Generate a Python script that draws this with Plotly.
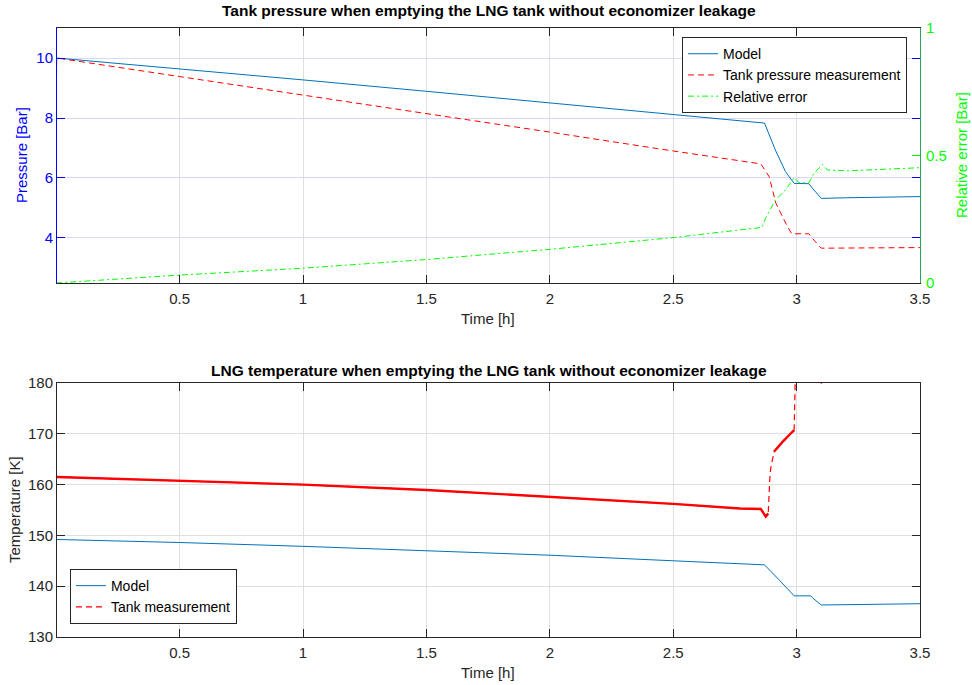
import plotly.graph_objects as go

# ---------------- data ----------------
# Top: pressure [Bar] vs time [h]
t_model_p = [0.0, 0.5, 1.0, 1.5, 2.0, 2.5, 2.87, 2.914, 2.955, 2.99, 3.05, 3.064, 3.07, 3.10, 3.2, 3.35, 3.5]
p_model = [10.0, 9.64, 9.27, 8.89, 8.50, 8.12, 7.83, 6.93, 6.21, 5.82, 5.81, 5.66, 5.60, 5.32, 5.34, 5.36, 5.38]

t_meas_p = [0.0, 0.002, 0.5, 1.0, 1.5, 2.0, 2.5, 2.82, 2.855, 2.889, 2.916, 2.956, 2.98, 3.05, 3.07, 3.10, 3.5]
p_meas = [8.75, 10.0, 9.38, 8.77, 8.15, 7.53, 6.90, 6.49, 6.47, 6.04, 5.16, 4.49, 4.14, 4.14, 3.93, 3.66, 3.68]

t_err = [0.0, 0.5, 1.0, 1.5, 2.0, 2.5, 2.86, 2.874, 2.914, 2.955, 2.99, 3.01, 3.05, 3.07, 3.105, 3.125, 3.21, 3.5]
rel_err = [0.0, 0.031, 0.058, 0.092, 0.132, 0.178, 0.218, 0.254, 0.325, 0.365, 0.413, 0.393, 0.393, 0.43, 0.465, 0.443, 0.44, 0.452]

# Bottom: temperature [K] vs time [h]
t_model_T = [0.0, 0.5, 1.0, 1.5, 2.0, 2.5, 2.87, 2.93, 2.99, 3.057, 3.067, 3.10, 3.3, 3.5]
T_model = [149.2, 148.6, 147.85, 147.05, 146.1, 145.0, 144.2, 141.2, 138.1, 138.1, 137.6, 136.3, 136.45, 136.55]

t_meas_T = [0.0, 0.5, 0.78, 1.0, 1.5, 2.0, 2.5, 2.77, 2.855, 2.875, 2.885, 2.891, 2.895, 2.909, 2.943, 2.983, 2.99,
            2.995, 3.0, 3.09, 3.10, 3.11, 3.5]
T_meas = [161.5, 160.8, 160.4, 160.0, 158.95, 157.6, 156.2, 155.3, 155.2, 153.7, 154.3, 160.9, 163.2, 166.5, 168.4, 170.4, 170.7,
          182.0, 190.0, 190.0, 179.85, 190.0, 190.0]
# index ranges of the dense (noisy) parts of the measurement, drawn thick
solid_a = (0, 10)   # 0 .. 2.885
solid_b = (13, 16)  # 2.909 .. 2.99

x_ticks = [0.5, 1, 1.5, 2, 2.5, 3, 3.5]
p_ticks = [4, 6, 8, 10]
e_ticks = [0, 0.5, 1]
T_ticks = [130, 140, 150, 160, 170, 180]

# ---------------- style ----------------
BLUE = "#0072BD"
RED = "#FF0000"
GREEN = "#00FF00"
DARK = "rgb(38,38,38)"
FONT = "Liberation Sans, Arial, sans-serif"
TICK = 15
LAB = 15
TITLE = 15.5
LEG = 14

fig = go.Figure()

fig.add_trace(go.Scatter(x=t_model_p, y=p_model, mode="lines", name="Model",
                         line=dict(color=BLUE, width=1), xaxis="x", yaxis="y", legend="legend"))
fig.add_trace(go.Scatter(x=t_meas_p, y=p_meas, mode="lines", name="Tank pressure measurement",
                         line=dict(color=RED, width=1, dash="6px,4px"), xaxis="x", yaxis="y", legend="legend"))
fig.add_trace(go.Scatter(x=t_err, y=rel_err, mode="lines", name="Relative error",
                         line=dict(color=GREEN, width=1, dash="6px,3px,2px,3px"), xaxis="x", yaxis="y2", legend="legend"))

fig.add_trace(go.Scatter(x=t_model_T, y=T_model, mode="lines", name="Model",
                         line=dict(color=BLUE, width=1), xaxis="x2", yaxis="y3", legend="legend2"))
fig.add_trace(go.Scatter(x=t_meas_T, y=T_meas, mode="lines", name="Tank measurement",
                         line=dict(color=RED, width=1.2, dash="6px,4px"), xaxis="x2", yaxis="y3", legend="legend2"))
for a, b in (solid_a, solid_b):
    fig.add_trace(go.Scatter(x=t_meas_T[a:b + 1], y=T_meas[a:b + 1], mode="lines", showlegend=False,
                             line=dict(color=RED, width=2.4), xaxis="x2", yaxis="y3", hoverinfo="skip"))

axis_common = dict(ticks="inside", ticklen=8, tickwidth=1, showline=True, linewidth=1, zeroline=False)

top_dom = [0.5813, 1.0]
bot_dom = [0.0, 0.4171]

fig.update_layout(
    width=972, height=685,
    margin=dict(l=57, r=52, t=28, b=48),
    paper_bgcolor="white", plot_bgcolor="white",
    font=dict(family=FONT, size=TICK, color=DARK),
    xaxis=dict(domain=[0, 1], anchor="y", range=[0.003, 3.5], tickvals=x_ticks,
               linecolor=DARK, tickcolor=DARK, mirror="ticks", showgrid=True,
               gridcolor="rgb(223,223,223)", ticklabelstandoff=2,
               tickfont=dict(family=FONT, size=TICK, color=DARK), **axis_common),
    yaxis=dict(domain=top_dom, anchor="x", range=[2.5, 11], tickvals=p_ticks,
               linecolor="#0000FF", tickcolor="#0000FF", mirror="ticks", showgrid=True,
               gridcolor="rgb(217,217,255)",
               tickfont=dict(family=FONT, size=TICK, color="#0000FF"), **axis_common),
    yaxis2=dict(overlaying="y", side="right", anchor="x", range=[0, 1], tickvals=e_ticks,
                ticktext=["0", "0.5", "1"],
                linecolor="#2aa85a", tickcolor=GREEN, showgrid=False, ticklabelstandoff=2,
                tickfont=dict(family=FONT, size=TICK, color=GREEN), **axis_common),
    xaxis2=dict(domain=[0, 1], anchor="y3", range=[0.003, 3.5], tickvals=x_ticks,
                linecolor=DARK, tickcolor=DARK, mirror="ticks", showgrid=True,
                gridcolor="rgb(223,223,223)", ticklabelstandoff=2,
                tickfont=dict(family=FONT, size=TICK, color=DARK), **axis_common),
    yaxis3=dict(domain=bot_dom, anchor="x2", range=[130, 180], tickvals=T_ticks,
                linecolor=DARK, tickcolor=DARK, mirror="ticks", showgrid=True,
                gridcolor="rgb(223,223,223)",
                tickfont=dict(family=FONT, size=TICK, color=DARK), **axis_common),
    legend=dict(x=0.985, y=0.985, xanchor="right", yanchor="top", bgcolor="white",
                bordercolor="rgb(38,38,38)", borderwidth=1,
                font=dict(family=FONT, size=LEG, color="black"), tracegroupgap=0,
                itemwidth=30),
    legend2=dict(x=0.015, y=0.0213, xanchor="left", yanchor="bottom", bgcolor="white",
                 bordercolor="rgb(38,38,38)", borderwidth=1,
                 font=dict(family=FONT, size=LEG, color="black"), tracegroupgap=0,
                 itemwidth=30),
    showlegend=True,
)


def px(xp):
    return (xp - 57) / 863.0


def py(yp):
    return 1 - (yp - 28) / 609.0


annots = [
    dict(text="<b>Tank pressure when emptying the LNG tank without economizer leakage</b>",
         x=0.5, y=py(10), font=dict(size=TITLE, color="black")),
    dict(text="<b>LNG temperature when emptying the LNG tank without economizer leakage</b>",
         x=0.5, y=py(370), font=dict(size=TITLE, color="black")),
    dict(text="Time [h]", x=px(488), y=py(318), font=dict(size=LAB, color=DARK)),
    dict(text="Time [h]", x=px(488), y=py(672), font=dict(size=LAB, color=DARK)),
    dict(text="Pressure [Bar]", x=px(21), y=py(155), textangle=-90, font=dict(size=LAB, color="#0000FF")),
    dict(text="Relative error [Bar]", x=px(961), y=py(155), textangle=-90, font=dict(size=LAB, color=GREEN)),
    dict(text="Temperature [K]", x=px(14), y=py(510), textangle=-90, font=dict(size=LAB, color=DARK)),
]
for a in annots:
    a.update(xref="paper", yref="paper", showarrow=False, xanchor="center", yanchor="middle")
    a["font"]["family"] = FONT
fig.update_layout(annotations=annots)

fig.write_html("out.html")
